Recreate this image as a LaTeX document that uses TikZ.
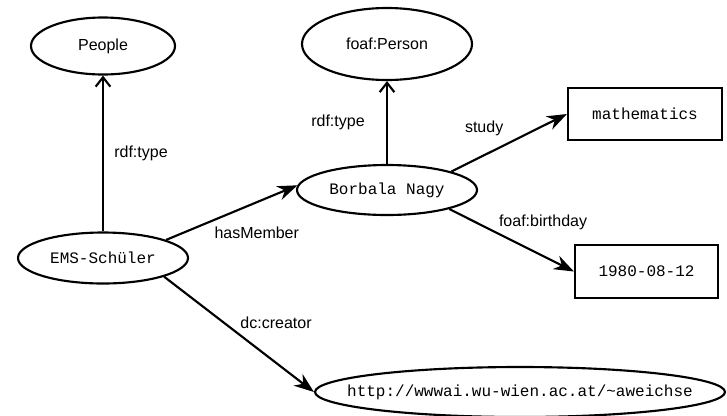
\documentclass[tikz,border=0pt]{standalone}
\usepackage{fontspec}
\setmainfont{Liberation Sans}
\setmonofont{Liberation Mono}
\usetikzlibrary{shapes.geometric, arrows.meta}

\begin{document}
\begin{tikzpicture}[x=0.75pt, y=-0.75pt, font=\fontsize{12}{14}\selectfont]
\tikzstyle{concept} = [ellipse, draw=black, line width=1.6pt, inner sep=0pt]
\tikzstyle{instance} = [concept, font=\fontsize{12}{14}\ttfamily]
\tikzstyle{literal} = [rectangle, draw=black, line width=1.6pt, inner sep=0pt, font=\fontsize{12}{14}\ttfamily]
\tikzstyle{typearrow} = [-{Straight Barb[length=7pt, width=11pt]}, line width=1.6pt]
\tikzstyle{proparrow} = [-{Stealth[length=15pt, width=11pt]}, line width=1.6pt]
\tikzstyle{edgelabel} = [midway, inner sep=0pt]
\useasboundingbox (0,0) rectangle (727,415);

\node (people) [concept, minimum width=108pt, minimum height=42.75pt] at (103,46) {People};
\node (person) [concept, minimum width=127.5pt, minimum height=54pt] at (387,44) {foaf:Person};
\node (borbala) [instance, minimum width=135pt, minimum height=37.5pt] at (387,190) {Borbala Nagy};
\node (ems) [instance, minimum width=127.5pt, minimum height=38.25pt] at (103,258) {EMS-Schüler};
\node (math) [literal, minimum width=115.5pt, minimum height=39pt] at (645,114) {mathematics};
\node (date) [literal, minimum width=107.25pt, minimum height=39.75pt] at (646.5,271.5) {1980-08-12};
\node (url) [instance, inner xsep=-21pt, minimum width=307.5pt, minimum height=37.5pt] at (520,392) {http://wwwai.wu-wien.ac.at/\char`\~aweichse};

\draw [typearrow] (ems.north) -- node[edgelabel, xshift=28.5pt] {rdf:type} (people.south);
\draw [typearrow] (borbala.north) -- node[edgelabel, xshift=-36.75pt] {rdf:type} (person.south);
\draw [proparrow] (ems.16) -- node[edgelabel, xshift=18.75pt, yshift=-15.4pt] {hasMember} (borbala.177);
\draw [proparrow] (borbala.16) -- node[edgelabel, xshift=-18.75pt, yshift=10.5pt] {study} (math.west);
\draw [proparrow] (borbala.-17) -- node[edgelabel, xshift=23.6pt, yshift=13.5pt] {foaf:birthday} (date.west);
\draw [proparrow] (ems.-17) -- node[edgelabel, xshift=27.75pt, yshift=8.6pt] {dc:creator} (url.west);

\end{tikzpicture}
\end{document}
